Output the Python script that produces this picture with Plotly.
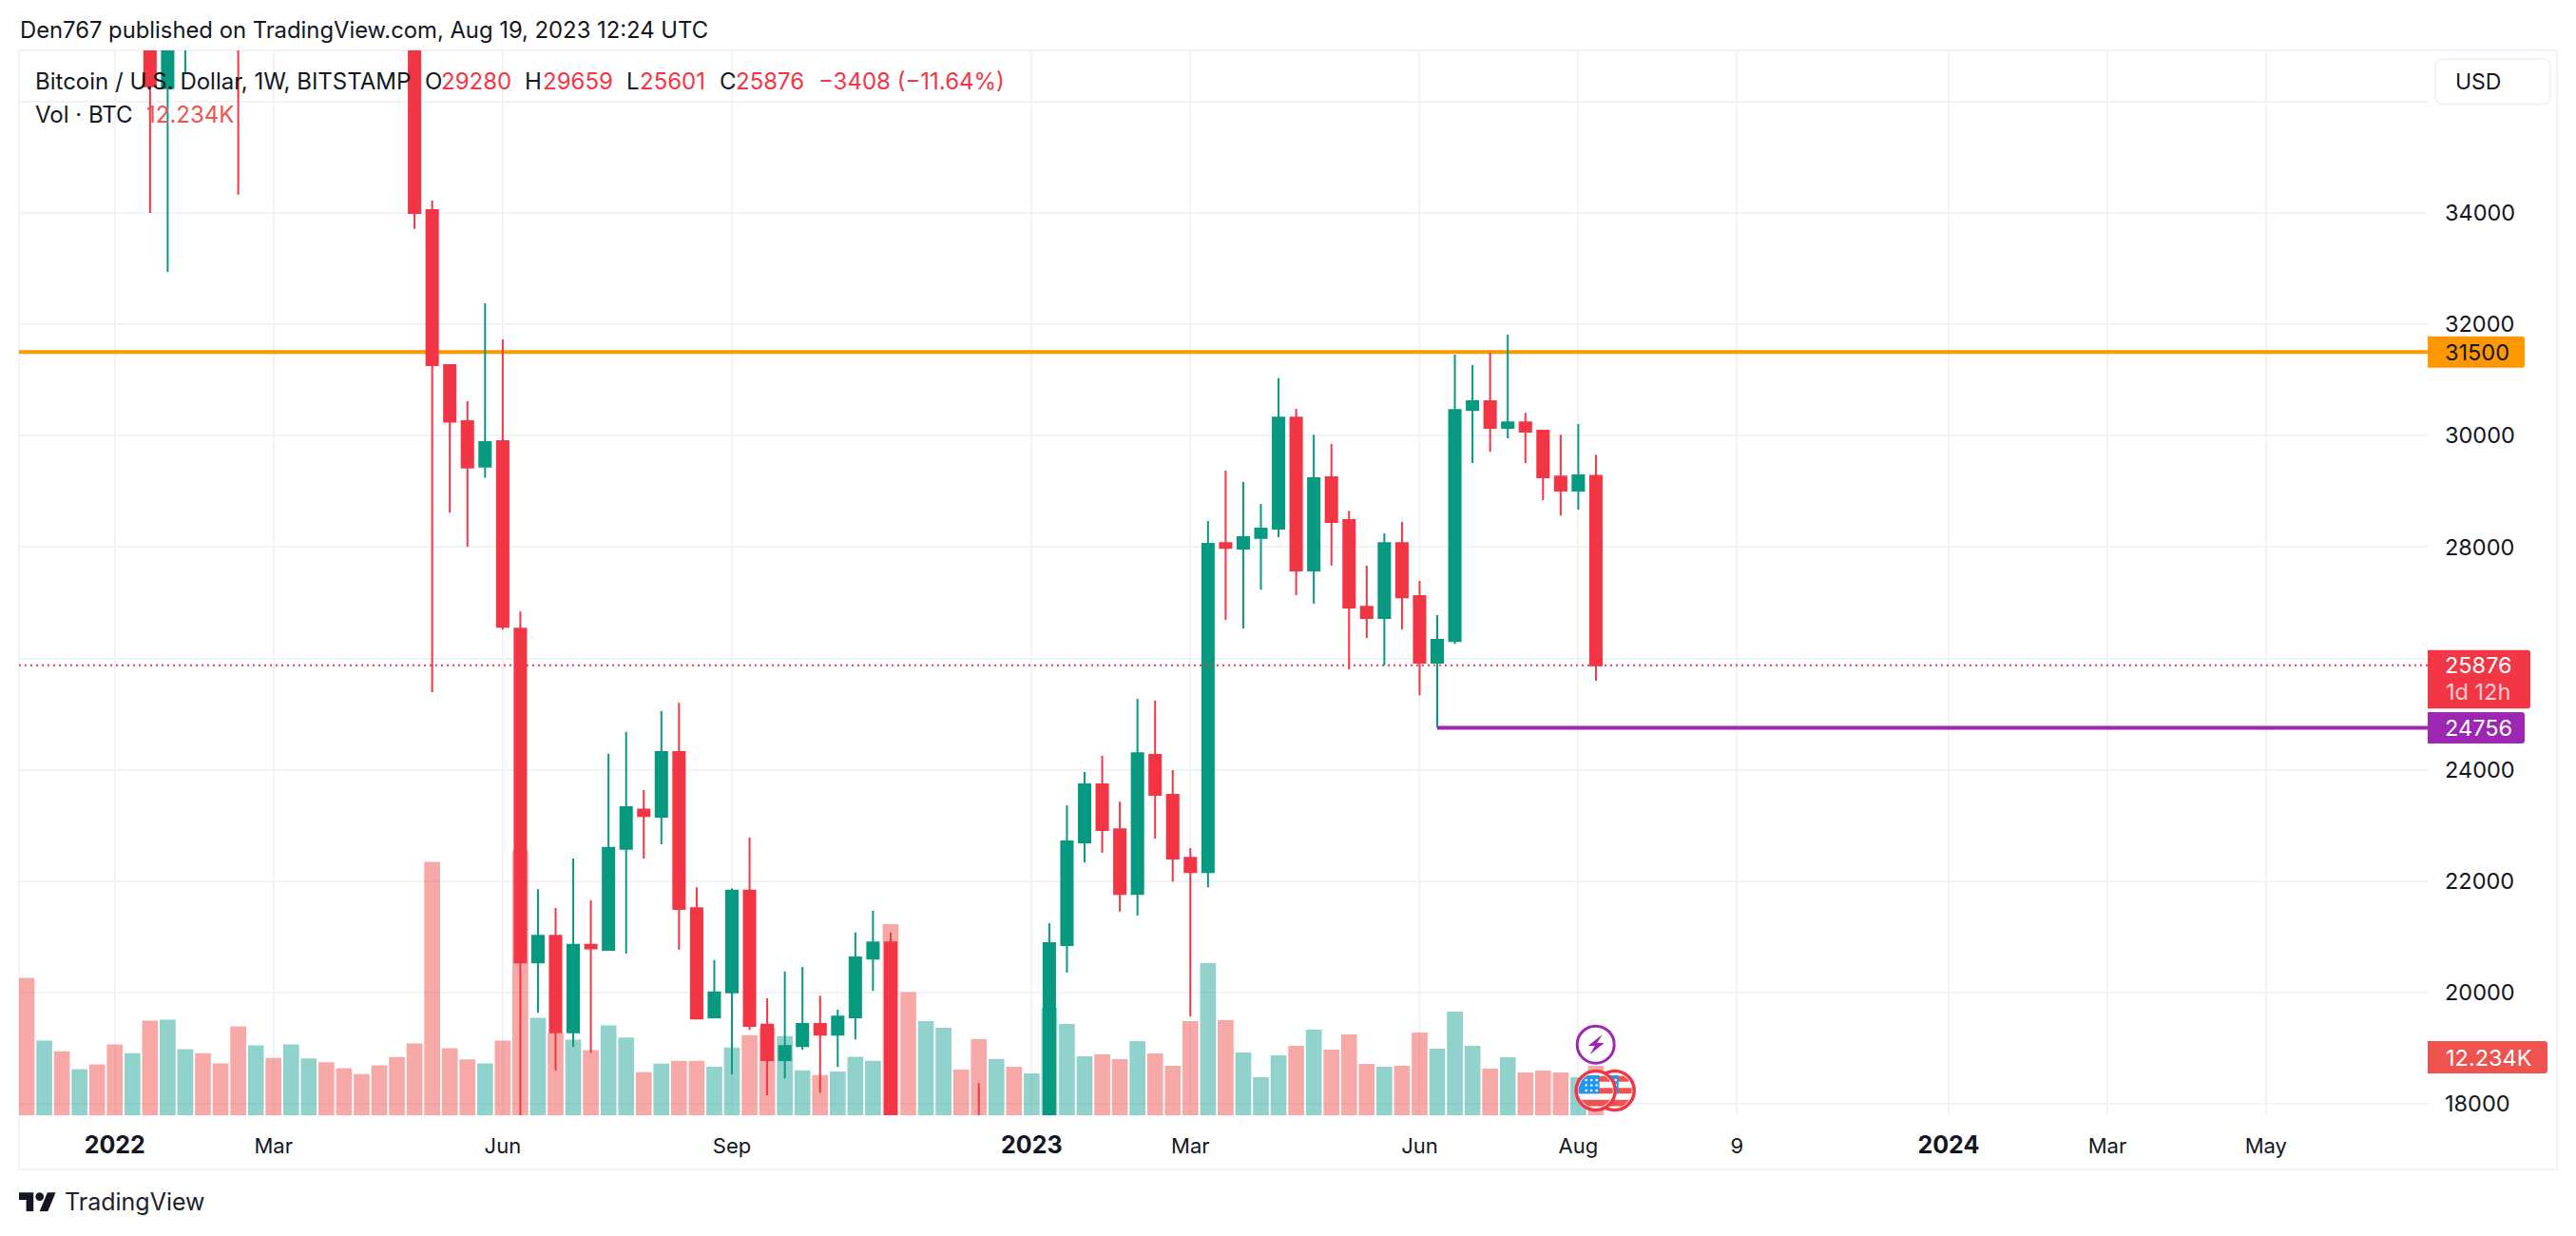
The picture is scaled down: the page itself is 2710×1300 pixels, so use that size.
import numpy as np
import pandas as pd
import plotly.graph_objects as go

# Weekly BTC/USD candles
dates = pd.date_range("2021-11-29", periods=90, freq="7D")

opens = [57200, 49300, 50100, 46700, 50800, 47100, 41800, 43100, 36240, 37900,
         42400, 42100, 38400, 37700, 38800, 37800, 39400, 46800, 45800, 40500,
         39700, 39400, 38470, 34050, 31267, 30260, 29446, 29902, 26535, 20543,
         21022, 19289, 20857, 20770, 22581, 23287, 23159, 24320, 21517, 19557,
         20003, 21829, 19423, 18786, 19040, 19437, 19246, 19557, 20612, 20902,
         16300, 16280, 16430, 17150, 17100, 16750, 16840, 16550, 16730, 20852,
         22699, 23740, 22933, 21772, 24269, 23550, 22420, 22165, 28071, 27973,
         28162, 28332, 30325, 27581, 29253, 28483, 26928, 26725, 28071, 27117,
         25922, 26314, 30462, 30619, 30142, 30240, 30090, 29266, 29012, 29280]

highs = [59000, 51900, 50700, 51400, 52100, 47600, 44400, 43500, 38900, 41700,
         45800, 44700, 40000, 45000, 42500, 42300, 45000, 48200, 47500, 42400,
         41600, 42900, 40000, 34220, 31267, 30619, 32377, 31728, 26840, 21858,
         21519, 22407, 21658, 24288, 24680, 23635, 25056, 25204, 21892, 20583,
         21871, 22784, 19897, 20378, 20463, 19946, 19691, 21079, 21468, 21079,
         17150, 16800, 17200, 17400, 18375, 17000, 16950, 16800, 21248, 23364,
         23959, 24249, 23428, 25275, 25242, 23994, 22596, 28469, 29371, 29168,
         28776, 31030, 30482, 30018, 29848, 28652, 27666, 28247, 28450, 27392,
         26777, 31455, 31266, 31488, 31814, 30410, 30090, 30018, 30207, 29659]

lows = [42000, 46700, 45500, 45600, 45900, 40500, 39700, 34000, 32940, 36500,
        41100, 38000, 34328, 37100, 37500, 37600, 38900, 44300, 40200, 39300,
        38600, 37700, 33714, 25394, 28616, 28007, 29243, 26517, 17600, 19637,
        18601, 19028, 18915, 20752, 20700, 22407, 22664, 20767, 19522, 19550,
        18531, 19331, 18156, 18460, 18977, 18198, 18665, 19161, 20031, 15500,
        15800, 15500, 16000, 16800, 16500, 16400, 16300, 16400, 16650, 20357,
        22338, 22508, 21454, 21383, 22766, 21995, 19574, 21891, 26692, 26536,
        27235, 28175, 27137, 26980, 27666, 25804, 26366, 25876, 26523, 25340,
        24756, 26261, 29508, 29711, 29952, 29508, 28842, 28567, 28672, 25601]

closes = [49300, 50100, 46700, 50800, 47100, 41800, 43100, 36274, 37900, 41400,
          42100, 38400, 37700, 38800, 37800, 39400, 44500, 45800, 40500, 39700,
          39400, 38500, 34000, 31267, 30249, 29429, 29884, 26570, 20543, 21022,
          19289, 20857, 20796, 22599, 23330, 23173, 24320, 21503, 19536, 20003,
          21829, 19401, 18786, 19040, 19437, 19246, 19571, 20633, 20902, 16300,
          16280, 16430, 17100, 17100, 16750, 16840, 16550, 16730, 20887, 22713,
          23740, 22919, 21772, 24299, 23550, 22407, 22165, 28058, 27986, 28175,
          28332, 30325, 27581, 29234, 28450, 26915, 26725, 28071, 27098, 25922,
          26333, 30462, 30619, 30142, 30240, 30070, 29253, 29012, 29286, 25876]

# Volume in thousands of BTC
volumes = [33.97, 18.49, 15.85, 11.40, 12.61, 17.53, 15.37, 23.41, 23.65, 16.33,
           15.37, 12.85, 21.97, 17.29, 14.17, 17.53, 14.05, 13.09, 11.64, 10.20,
           12.37, 14.41, 17.77, 62.67, 16.57, 13.81, 12.85, 18.49, 65.55, 24.13,
           20.41, 18.73, 16.09, 22.21, 19.21, 10.68, 12.78, 13.46, 13.46, 12.00,
           16.78, 19.80, 21.66, 19.61, 11.12, 9.95, 10.83, 14.44, 13.46, 47.31,
           30.44, 23.31, 21.66, 11.32, 18.83, 13.95, 12.00, 10.35, 26.59, 22.59,
           14.59, 15.06, 13.88, 18.35, 15.29, 12.23, 23.29, 37.65, 23.53, 15.53,
           9.41, 14.82, 17.18, 21.18, 16.24, 20.00, 12.71, 12.00, 12.23, 20.47,
           16.47, 25.65, 17.18, 11.53, 14.35, 10.59, 11.06, 10.59, 9.41, 12.234]

price_ticks = [18000, 20000, 22000, 24000, 26000, 28000, 30000, 32000, 34000, 36000]
price_tick_labels = ["18000", "20000", "22000", "24000", "", "28000", "30000", "32000", "34000", ""]

time_ticks = ["2022-01-03", "2022-03-07", "2022-06-06", "2022-09-05", "2023-01-02", "2023-03-06",
              "2023-06-05", "2023-08-07", "2023-10-09", "2024-01-01", "2024-03-04", "2024-05-06"]
time_tick_labels = ["2022", "Mar", "Jun", "Sep", "2023", "Mar", "Jun", "Aug", "9", "2024", "Mar", "May"]

resistance = 31500
support = 24756
support_start = "2023-06-12"
last_close = 25876

GREEN = "#089981"
RED = "#f23645"
VOL_GREEN = "rgba(38,166,154,0.5)"
VOL_RED = "rgba(239,83,80,0.5)"
ORANGE = "#ff9800"
PURPLE = "#9c27b0"
INK = "#131722"
GRID = "#f2f3f6"
BORDER = "#f0f3fa"
FONT = "Inter"

# Pane edges in page pixels
W, H = 2710, 1300
PL, PR, PT, PB = 20, 2554, 53, 1173
OUT_R, OUT_B = 2690, 1230
Y_TOP, Y_BOT = 36917, 17798
VOL_TOP = 263.5
DAYS_PER_PX = 1 / 2.65


def xp(px):
    return (px - PL) / (PR - PL)


def yp(py):
    return (PB - py) / (PB - PT)


def price_px(v):
    return PT + (Y_TOP - v) / (Y_TOP - Y_BOT) * (PB - PT)


def poly(points, fill, line=None, width=0):
    path = "M " + " L ".join(f"{xp(x):.6f} {yp(y):.6f}" for x, y in points) + " Z"
    return dict(type="path", xref="paper", yref="paper", path=path, fillcolor=fill,
                line=dict(color=line or fill, width=width), layer="above")


def round_rect(x0, y0, x1, y1, fill, line=None, width=0, r_left=0, r_right=3):
    def c(x, y):
        return f"{xp(x):.6f} {yp(y):.6f}"
    path = (f"M {c(x0 + r_left, y0)} L {c(x1 - r_right, y0)} Q {c(x1, y0)} {c(x1, y0 + r_right)} "
            f"L {c(x1, y1 - r_right)} Q {c(x1, y1)} {c(x1 - r_right, y1)} L {c(x0 + r_left, y1)} "
            f"Q {c(x0, y1)} {c(x0, y1 - r_left)} L {c(x0, y0 + r_left)} Q {c(x0, y0)} {c(x0 + r_left, y0)} Z")
    return dict(type="path", xref="paper", yref="paper", path=path, fillcolor=fill,
                line=dict(color=line or fill, width=width), layer="above")


def circle(cx, cy, r, fill, line=None, width=0):
    return dict(type="circle", xref="paper", yref="paper", x0=xp(cx - r), x1=xp(cx + r),
                y0=yp(cy + r), y1=yp(cy - r), fillcolor=fill,
                line=dict(color=line or fill, width=width), layer="above")


def label(text, x, y, color=INK, size=24, anchor="left"):
    return dict(text=text, xref="paper", yref="paper", x=xp(x), y=yp(y), showarrow=False,
                xanchor=anchor, yanchor="middle", borderpad=0,
                font=dict(family=FONT, size=size, color=color))


def flag_band(cx, cy, r, y0, y1, color, x0=-99, x1=99):
    # horizontal band of the flag, cut to the coin's circle
    ys = np.linspace(y0, y1, 12)
    half = np.sqrt(np.maximum(r * r - ys * ys, 0))
    left = [(cx + max(x0, -h), cy + y) for y, h in zip(ys, half)]
    right = [(cx + min(x1, h), cy + y) for y, h in zip(ys, half)]
    return poly(left + right[::-1], color)


def flag_coin(cx, cy):
    r = 18
    parts = [circle(cx, cy, r + 2.5, "#ffffff", RED, 3.5)]
    for y0, y1 in [(-15.3, -9.3), (-2.7, 3.3), (9.7, 16.5)]:
        parts.append(flag_band(cx, cy, r, y0, y1, "#ef5350"))
    parts.append(flag_band(cx, cy, r, -16, 3.3, "#2196f3", x1=4))
    for sy in (-11, -5.5, 0):
        for sx in (-10, -4.5, 1):
            parts.append(circle(cx + sx, cy + sy, 1.3, "#ffffff"))
    return parts


x_start = (dates[0] - pd.Timedelta(days=(28 - PL) * DAYS_PER_PX)).round("s")
x_end = (dates[0] + pd.Timedelta(days=(PR - 28) * DAYS_PER_PX)).round("s")

fig = go.Figure()

vol_colors = [VOL_GREEN if c >= o else VOL_RED for o, c in zip(opens, closes)]
fig.add_trace(go.Bar(x=dates, y=volumes, marker=dict(color=vol_colors, line=dict(width=0)),
                     yaxis="y", name="Vol"))

# the orange level goes on its own axis so that the candles draw over it
fig.add_trace(go.Scatter(x=[x_start, x_end], y=[resistance, resistance], mode="lines", yaxis="y2",
                         line=dict(color=ORANGE, width=4), name="31500"))

fig.add_trace(go.Candlestick(
    x=dates, open=opens, high=highs, low=lows, close=closes, yaxis="y3", name="BTCUSD",
    increasing=dict(line=dict(color=GREEN, width=2), fillcolor=GREEN),
    decreasing=dict(line=dict(color=RED, width=2), fillcolor=RED),
))

shapes = [
    dict(type="rect", xref="paper", yref="paper", x0=0, x1=xp(OUT_R), y0=yp(OUT_B), y1=1,
         line=dict(color=BORDER, width=2), layer="below"),
    dict(type="line", xref="paper", yref="y3", x0=0, x1=1, y0=last_close, y1=last_close,
         line=dict(color=RED, width=2, dash="2px 4px"), layer="above"),
    dict(type="line", xref="x", yref="y3", x0=support_start, x1=x_end, y0=support, y1=support,
         line=dict(color=PURPLE, width=4), layer="above"),
    # price scale tags
    round_rect(PR, price_px(resistance) - 16.5, 2656, price_px(resistance) + 16.5, ORANGE),
    round_rect(PR, price_px(last_close) - 16, 2662, price_px(last_close) + 45.5, RED),
    round_rect(PR, price_px(support) - 16.5, 2656, price_px(support) + 16.5, PURPLE),
    round_rect(PR, 1095, 2680, 1129, "#ef5350"),
    # currency button
    round_rect(2562, 62, 2683, 109.5, "#ffffff", BORDER, 2, r_left=8, r_right=8),
    # TradingView mark
    poly([(20 + 1.086 * x, 1250 + 1.086 * y) for x, y in
          [(14, 22), (7, 22), (7, 11), (0, 11), (0, 4), (14, 4)]], INK),
    poly([(20 + 1.086 * x, 1250 + 1.086 * y) for x, y in
          [(28, 22), (20, 22), (27.5, 4), (35.5, 4)]], INK),
    circle(20 + 1.086 * 20, 1250 + 1.086 * 8, 1.086 * 4, INK),
]

# event markers on the last bar
coin_x, coin_y = 1678.7, 1147
shapes += flag_coin(coin_x + 20, coin_y)
shapes += flag_coin(coin_x, coin_y)
shapes.append(circle(coin_x, 1098.7, 19.5, "#ffffff", PURPLE, 3))
shapes.append(poly([(coin_x + 7, 1088), (coin_x - 8, 1100), (coin_x - 1, 1100), (coin_x - 6, 1109),
                    (coin_x + 9, 1097), (coin_x + 1.5, 1097)], PURPLE))

annotations = [
    label("Den767 published on TradingView.com, Aug 19, 2023 12:24 UTC", 20, 32, size=23.8),
    label("Bitcoin / U.S. Dollar, 1W, BITSTAMP", 35.5, 85.5),
    label("O", 446, 85.5), label("29280", 463, 85.5, RED),
    label("H", 551, 85.5), label("29659", 570, 85.5, RED),
    label("L", 658, 85.5), label("25601", 672, 85.5, RED),
    label("C", 756, 85.5), label("25876", 773, 85.5, RED),
    label("−3408 (−11.64%)", 860, 85.5, RED),
    label("Vol · BTC", 35.5, 120), label("12.234K", 153, 120, "#ef5350"),
    label("USD", 2582, 86, size=23),
    label("31500", 2571, price_px(resistance), size=23.5),
    label("25876", 2571, price_px(last_close), "#ffffff", size=23.5),
    label("1d 12h", 2572, price_px(last_close) + 28, "rgba(255,255,255,0.75)", size=23.5),
    label("24756", 2571, price_px(support), "#ffffff", size=23.5),
    label("12.234K", 2572, 1112, "#ffffff", size=23.5),
    label("TradingView", 67, 1264, "#1e222d", size=25),
]

year_labels = {"2022", "2023", "2024"}
tick_text = [f'<span style="font-size:25px"><b>{t}</b></span>' if t in year_labels else t
             for t in time_tick_labels]

fig.update_layout(
    width=W, height=H,
    margin=dict(l=PL, r=W - PR, t=PT, b=H - PB, autoexpand=False),
    paper_bgcolor="#ffffff", plot_bgcolor="#ffffff",
    showlegend=False, hovermode=False, bargap=0.1, boxgap=0.35, boxgroupgap=0,
    font=dict(family=FONT, color=INK),
    shapes=shapes, annotations=annotations,
    xaxis=dict(
        type="date", range=[x_start, x_end], rangeslider=dict(visible=False),
        tickmode="array", tickvals=time_ticks, ticktext=tick_text, tickangle=0,
        showgrid=True, gridcolor=GRID, gridwidth=2, zeroline=False, showline=False,
        ticks="", ticklabelstandoff=17, tickfont=dict(family=FONT, size=22, color=INK),
    ),
    yaxis=dict(range=[0, VOL_TOP], visible=False, showgrid=False),
    yaxis2=dict(overlaying="y", range=[Y_BOT, Y_TOP], visible=False, showgrid=False),
    yaxis3=dict(
        overlaying="y", side="right", range=[Y_BOT, Y_TOP],
        tickmode="array", tickvals=price_ticks, ticktext=price_tick_labels,
        showgrid=True, gridcolor=GRID, gridwidth=2, zeroline=False, showline=False,
        ticks="", ticklabelstandoff=17, tickfont=dict(family=FONT, size=23.5, color=INK),
    ),
)

fig.write_html("out.html", config=dict(displayModeBar=False),
               post_script="document.body.style.margin='0';")
